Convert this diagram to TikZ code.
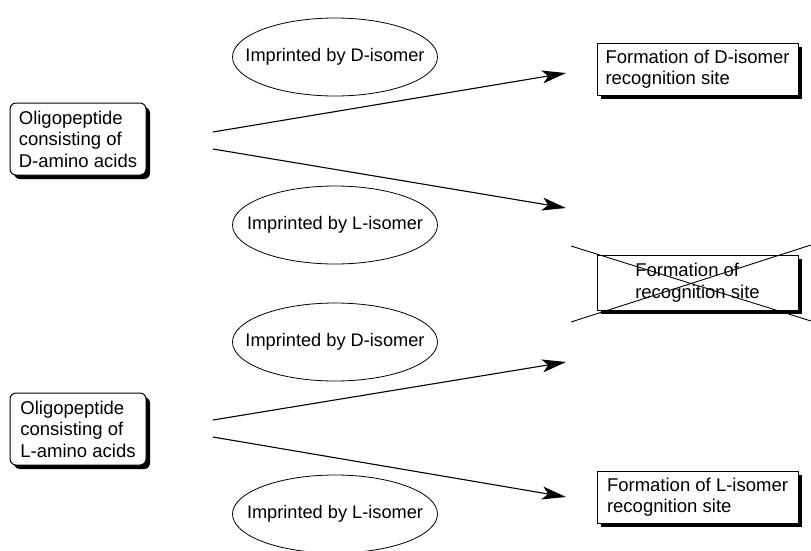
\documentclass[tikz,border=0pt]{standalone}
\usepackage{fontspec}
\setmainfont{Liberation Sans}
\usetikzlibrary{arrows.meta,shadows,shapes.geometric}
\newcommand{\zw}[1]{\makebox[0pt]{#1}}
\begin{document}
\begin{tikzpicture}[x=1pt,y=-1pt,
  txt/.style={font=\fontsize{18.5}{21.5}\selectfont},
  srcbox/.style={txt,draw,line width=1pt,rounded corners=6pt,fill=white,
    minimum width=136pt,minimum height=72pt,inner sep=0pt,align=left,
    general shadow={fill=black,shadow xshift=4pt,shadow yshift=-4pt}},
  resbox/.style={txt,draw,line width=1pt,fill=white,
    minimum width=201pt,minimum height=52pt,inner sep=0pt,align=left,
    general shadow={fill=black,shadow xshift=4pt,shadow yshift=-4pt}},
  imp/.style={font=\fontsize{18.2}{21}\selectfont,draw,line width=0.8pt,shape=ellipse,
    minimum width=205pt,minimum height=78pt,inner sep=0pt},
  arr/.style={line width=1.1pt,-{Stealth[length=24pt,width=13pt,inset=6pt]}},
  crossline/.style={line width=0.9pt}]
\useasboundingbox (0,0) rectangle (811,550);

% source boxes
\node[srcbox] (srcD) at (78,139) {Oligopeptide\\consisting of\\D-amino acids};
\node[srcbox] (srcL) at (78,429) {Oligopeptide\\consisting of\\L-amino acids};

% result boxes
\node[resbox] (resD) at (697.5,69) {Formation of D-isomer\\recognition site};
\node[resbox,minimum height=55pt] (resX) at (697.5,282.5) {Formation of\\recognition site};
\node[resbox] (resL) at (697.5,497) {Formation of L-isomer\\recognition site};

% ellipses
\node[imp] (e1) at (335,57) {\zw{Imprinted by D-isomer}};
\node[imp] (e2) at (335,225) {\zw{Imprinted by L-isomer}};
\node[imp] (e3) at (335,342) {\zw{Imprinted by D-isomer}};
\node[imp] (e4) at (335,514) {\zw{Imprinted by L-isomer}};

% arrow end points
\coordinate (s1) at (213,132);
\coordinate (s2) at (213,149);
\coordinate (s3) at (213,420);
\coordinate (s4) at (213,437);
\coordinate (t1) at (566,73);
\coordinate (t2) at (566,208);
\coordinate (t3) at (566,362);
\coordinate (t4) at (566,497);

\draw[arr] (s1) -- (t1);
\draw[arr] (s2) -- (t2);
\draw[arr] (s3) -- (t3);
\draw[arr] (s4) -- (t4);

% cross
\coordinate (c1) at (571,246);
\coordinate (c2) at (811,321);
\coordinate (c3) at (571,322);
\coordinate (c4) at (811,245);
\draw[crossline] (c1) -- (c2);
\draw[crossline] (c3) -- (c4);
\end{tikzpicture}
\end{document}
